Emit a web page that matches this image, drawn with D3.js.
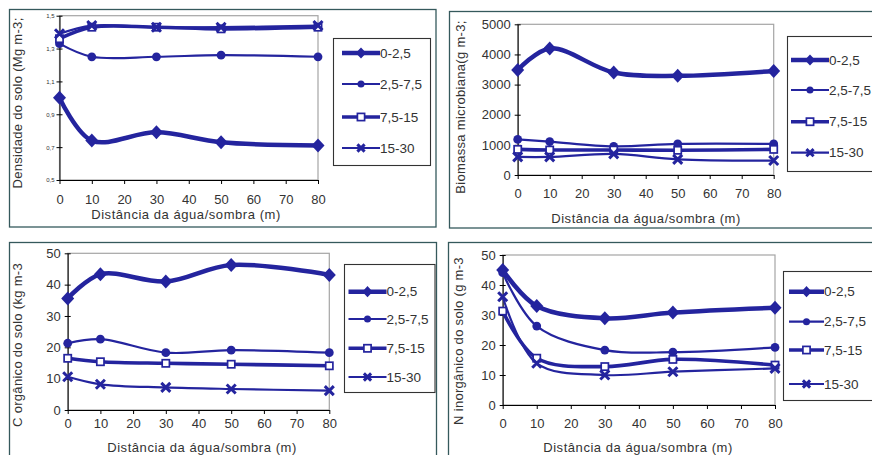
<!DOCTYPE html>
<html>
<head>
<meta charset="utf-8">
<script src="https://cdn.jsdelivr.net/npm/d3@7"></script>
<style>
  body { margin: 0; background: #fff; }
  text { font-family: "Liberation Sans", Arial, sans-serif; fill: #333; }
</style>
</head>
<body>
<div id="chart"></div>
<script>
// distances along the x axis (m)
var distances = [0, 10, 30, 50, 80];
var depths = ["0-2,5", "2,5-7,5", "7,5-15", "15-30"];
var xTicks = [0, 10, 20, 30, 40, 50, 60, 70, 80];

// one row per depth, one value per distance
var densidadeValues = [
  [1.00, 0.74, 0.79, 0.73, 0.71],
  [1.33, 1.25, 1.25, 1.26, 1.25],
  [1.36, 1.43, 1.43, 1.42, 1.43],
  [1.39, 1.44, 1.43, 1.43, 1.44]
];
var biomassaValues = [
  [3480, 4200, 3400, 3290, 3450],
  [1180, 1110, 950, 1030, 1030],
  [850, 830, 830, 820, 850],
  [600, 600, 700, 520, 480]
];
var carbonoValues = [
  [35.6, 43.3, 41.0, 46.3, 43.1],
  [21.3, 22.6, 18.3, 19.1, 18.3],
  [16.5, 15.4, 14.9, 14.6, 14.1],
  [10.6, 8.2, 7.2, 6.7, 6.2]
];
var nitrogenioValues = [
  [45.0, 33.0, 28.9, 30.8, 32.4],
  [44.1, 26.3, 18.3, 17.6, 19.2],
  [31.3, 15.6, 12.8, 15.2, 13.3],
  [36.1, 13.9, 10.0, 11.1, 12.2]
];

var densidadeTicks = [0.5, 0.7, 0.9, 1.1, 1.3, 1.5];
var biomassaTicks = [0, 1000, 2000, 3000, 4000, 5000];
var carbonoTicks = [0, 10, 20, 30, 40, 50];
var nitrogenioTicks = [0, 10, 20, 30, 40, 50];

var blue = "#24249e";
var frameColor = "#35595c";

// line widths / markers per depth
var lineWidths = [4.5, 2.2, 3.6, 2.2];
var markerKinds = ["diamond", "circle", "square", "x"];

var svg = d3.select("#chart").append("svg")
  .attr("width", 872)
  .attr("height", 455);

var panels = [
  {
    values: densidadeValues, ticks: densidadeTicks, domain: [0.5, 1.5],
    fmt: d => d3.format(".1f")(d).replace(".", ","), tickFont: 6,
    title: "Densidade do solo (Mg m-3;",
    frame: [9.5, 9.5, 426.5, 217.5],
    x0: 59.5, x1: 318, yTop: 15.7, yBot: 180,
    tickY: 203.5, xTitle: [186, 218.5], yTitle: [22, 103],
    legend: { box: [333.5, 38.5, 97, 127], lx: [342, 380], ys: [53, 84, 117, 148] }
  },
  {
    values: biomassaValues, ticks: biomassaTicks, domain: [0, 5000],
    fmt: d => String(d), tickFont: 13,
    title: "Biomassa microbiana(g m-3;",
    frame: [449.5, 11.5, 430, 216.5],
    x0: 517.7, x1: 773.7, yTop: 24.3, yBot: 175,
    tickY: 198, xTitle: [646, 223], yTitle: [465, 107],
    legend: { box: [787.5, 36.5, 100, 135], lx: [791, 829], ys: [60, 90, 121.7, 152.7] }
  },
  {
    values: carbonoValues, ticks: carbonoTicks, domain: [0, 50],
    fmt: d => String(d), tickFont: 13,
    title: "C orgânico do solo (kg m-3",
    frame: [9.5, 242.5, 427, 230],
    x0: 67.7, x1: 329.3, yTop: 253.3, yBot: 410,
    tickY: 427.5, xTitle: [202, 451.5], yTitle: [22, 345],
    legend: { box: [344.5, 264.5, 90.5, 128], lx: [348.5, 386.5], ys: [291.7, 319, 348.3, 377] }
  },
  {
    values: nitrogenioValues, ticks: nitrogenioTicks, domain: [0, 50],
    fmt: d => String(d), tickFont: 13,
    title: "N inorgânico do solo (g m-3",
    frame: [448.5, 242.5, 430, 230],
    x0: 502.7, x1: 775, yTop: 255, yBot: 405,
    tickY: 427.5, xTitle: [638, 451.5], yTitle: [463, 341],
    legend: { box: [783.5, 271.5, 100, 129], lx: [789, 824], ys: [291.7, 321.7, 350, 384] }
  }
];

function drawMarker(g, kind, x, y, small) {
  var k = small ? 0.8 : 1;
  if (kind === "diamond") {
    var w = 6.5 * k, h = 7 * k;
    g.append("path")
      .attr("d", `M${x},${y - h}L${x + w},${y}L${x},${y + h}L${x - w},${y}Z`)
      .attr("fill", blue);
  } else if (kind === "circle") {
    g.append("circle").attr("cx", x).attr("cy", y).attr("r", 4.4 * k).attr("fill", blue);
  } else if (kind === "square") {
    g.append("rect").attr("x", x - 3.6).attr("y", y - 3.6)
      .attr("width", 7.2).attr("height", 7.2)
      .attr("fill", "#fff").attr("stroke", blue).attr("stroke-width", 1.7);
  } else {
    var r = 4.5 * k;
    g.append("path")
      .attr("d", `M${x - r},${y - r}L${x + r},${y + r}M${x - r},${y + r}L${x + r},${y - r}`)
      .attr("stroke", blue).attr("stroke-width", 3).attr("fill", "none");
  }
}

panels.forEach(function (p) {
  var g = svg.append("g");

  // outer frame
  g.append("rect")
    .attr("x", p.frame[0]).attr("y", p.frame[1])
    .attr("width", p.frame[2]).attr("height", p.frame[3])
    .attr("fill", "none").attr("stroke", frameColor).attr("stroke-width", 1.3);

  var x = d3.scaleLinear().domain([0, 80]).range([p.x0, p.x1]);
  var y = d3.scaleLinear().domain(p.domain).range([p.yBot, p.yTop]);

  // plot area border (gray top/right)
  g.append("rect")
    .attr("x", p.x0).attr("y", p.yTop)
    .attr("width", p.x1 - p.x0).attr("height", p.yBot - p.yTop)
    .attr("fill", "none").attr("stroke", "#a5a5a5").attr("stroke-width", 1.2);

  var yAxis = g.append("g")
    .attr("transform", `translate(${p.x0},0)`)
    .call(d3.axisLeft(y).tickValues(p.ticks).tickFormat(p.fmt).tickSizeOuter(0).tickSizeInner(3));
  yAxis.selectAll("line").attr("x2", -3).attr("x1", 3).attr("stroke", "#000");
  yAxis.select(".domain").attr("stroke", "#000");
  yAxis.selectAll("text")
    .attr("font-size", p.tickFont)
    .attr("font-family", "Liberation Sans, Arial, sans-serif")
    .attr("fill", "#333")
    .attr("x", p.tickFont < 8 ? -5 : -7);

  var xAxis = g.append("g")
    .attr("transform", `translate(0,${p.yBot})`)
    .call(d3.axisBottom(x).tickValues(xTicks).tickSizeOuter(0).tickSizeInner(4));
  xAxis.selectAll("line").attr("stroke", "#000");
  xAxis.select(".domain").attr("stroke", "#000");
  xAxis.selectAll("text")
    .attr("font-size", 13)
    .attr("font-family", "Liberation Sans, Arial, sans-serif")
    .attr("fill", "#333")
    .attr("y", null).attr("dy", null)
    .attr("transform", `translate(0,${p.tickY - p.yBot})`);

  // axis titles
  g.append("text")
    .attr("x", p.xTitle[0]).attr("y", p.xTitle[1])
    .attr("text-anchor", "middle").attr("font-size", 13)
    .attr("letter-spacing", 0.55)
    .text("Distância da água/sombra (m)");
  g.append("text")
    .attr("transform", `translate(${p.yTitle[0]},${p.yTitle[1]}) rotate(-90)`)
    .attr("text-anchor", "middle").attr("font-size", 13)
    .attr("letter-spacing", 0.3)
    .text(p.title);

  // series
  var line = d3.line()
    .x((d, i) => x(distances[i]))
    .y(d => y(d))
    .curve(d3.curveCatmullRom.alpha(0.5));

  p.values.forEach(function (vals, s) {
    g.append("path")
      .attr("d", line(vals))
      .attr("fill", "none")
      .attr("stroke", blue)
      .attr("stroke-width", lineWidths[s])
      .attr("stroke-linejoin", "round");
    vals.forEach(function (v, i) {
      drawMarker(g, markerKinds[s], x(distances[i]), y(v));
    });
  });

  // legend
  var L = p.legend;
  g.append("rect")
    .attr("x", L.box[0]).attr("y", L.box[1])
    .attr("width", L.box[2]).attr("height", L.box[3])
    .attr("fill", "#fff").attr("stroke", "#333").attr("stroke-width", 1.1);
  depths.forEach(function (name, s) {
    var ly = L.ys[s];
    g.append("line")
      .attr("x1", L.lx[0]).attr("x2", L.lx[1])
      .attr("y1", ly).attr("y2", ly)
      .attr("stroke", blue).attr("stroke-width", lineWidths[s]);
    drawMarker(g, markerKinds[s], (L.lx[0] + L.lx[1]) / 2, ly, true);
    g.append("text")
      .attr("x", L.lx[1]).attr("y", ly)
      .attr("dy", "0.35em").attr("font-size", 13.5)
      .text(name);
  });
});
</script>
</body>
</html>
